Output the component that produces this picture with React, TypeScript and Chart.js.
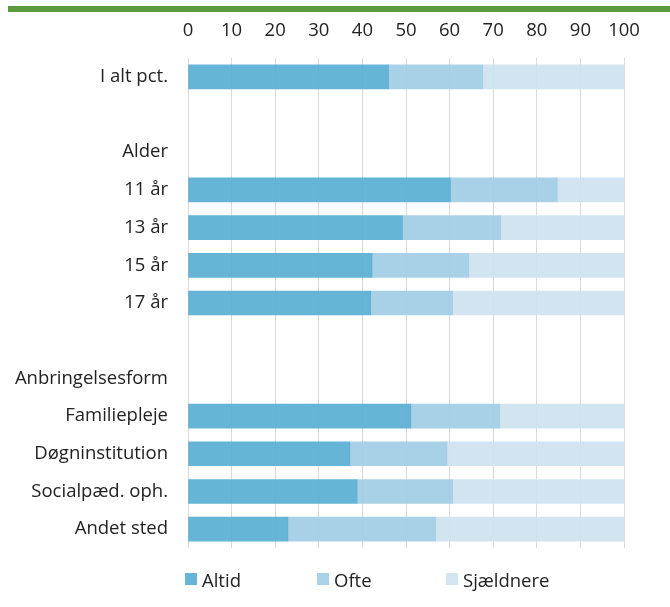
import React, { useEffect, useRef } from "react";
import { Chart, registerables } from "chart.js";

Chart.register(...registerables);

const categories = [
  "I alt pct.",
  " ",
  "Alder",
  "11 år",
  "13 år",
  "15 år",
  "17 år",
  "  ",
  "Anbringelsesform",
  "Familiepleje",
  "Døgninstitution",
  "Socialpæd. oph.",
  "Andet sted",
];

const altid = [46.0, null, null, 60.2, 49.2, 42.2, 41.9, null, null, 51.1, 37.1, 38.8, 22.9];
const ofte = [21.6, null, null, 24.5, 22.5, 22.2, 18.8, null, null, 20.4, 22.3, 21.9, 33.9];
const sjaeldnere = [32.4, null, null, 15.3, 28.3, 35.6, 39.3, null, null, 28.5, 40.6, 39.3, 43.2];

const seriesNames = ["Altid", "Ofte", "Sjældnere"];
const barColors = ["rgba(85,172,209,0.9)", "rgba(159,204,228,0.9)", "rgba(204,225,238,0.9)"];
const legendColors = ["#66b4d6", "#a9d1e7", "#d2e5f0"];

const xTicks = [0, 10, 20, 30, 40, 50, 60, 70, 80, 90, 100];

const FONT = "'Open Sans', 'DejaVu Sans', sans-serif";
const TEXT = "#222222";

export default function App() {
  const canvasRef = useRef<HTMLCanvasElement | null>(null);

  useEffect(() => {
    if (!canvasRef.current) return;
    const chart = new Chart(canvasRef.current, {
      type: "bar",
      data: {
        labels: categories,
        datasets: [altid, ofte, sjaeldnere].map((d, i) => ({
          label: seriesNames[i],
          data: d,
          backgroundColor: barColors[i],
          borderWidth: 0,
          barThickness: 24,
        })),
      },
      options: {
        indexAxis: "y",
        responsive: false,
        animation: false,
        maintainAspectRatio: false,
        layout: { padding: { top: 0, left: 0, right: 46, bottom: 59 } },
        plugins: {
          legend: { display: false },
          tooltip: { enabled: false },
        },
        scales: {
          x: {
            position: "top",
            stacked: true,
            min: 0,
            max: 100,
            afterFit: (scale: any) => {
              scale.height = 58;
            },
            afterBuildTicks: (scale: any) => {
              scale.ticks = xTicks.map((v) => ({ value: v }));
            },
            border: { display: false },
            grid: { color: "#d9d9d9", lineWidth: 1, drawTicks: false },
            ticks: {
              padding: 16,
              color: TEXT,
              font: { family: FONT, size: 18.5 },
              maxRotation: 0,
            },
          },
          y: {
            stacked: true,
            afterFit: (scale: any) => {
              scale.width = 188;
            },
            border: { display: false },
            grid: { display: false, drawTicks: false },
            ticks: {
              padding: 20,
              color: TEXT,
              font: { family: FONT, size: 18.5 },
              autoSkip: false,
            },
          },
        },
      },
    });
    return () => chart.destroy();
  }, []);

  const legendLefts = [185, 317, 446];

  return (
    <div style={{ position: "absolute", left: 0, top: 0, width: 670, height: 607, background: "#fff" }}>
      <div style={{ position: "absolute", left: 8, top: 6, width: 662, height: 6, background: "#5b9a40" }} />
      <canvas ref={canvasRef} width={670} height={607} style={{ position: "absolute", left: 0, top: 0 }} />
      {seriesNames.map((name, i) => (
        <div
          key={name}
          style={{
            position: "absolute",
            left: legendLefts[i],
            top: 566,
            height: 26,
            display: "flex",
            alignItems: "center",
            fontFamily: FONT,
            fontSize: 18.5,
            color: TEXT,
            whiteSpace: "nowrap",
          }}
        >
          <span style={{ display: "inline-block", width: 12, height: 12, background: legendColors[i], marginRight: 5 }} />
          <span>{name}</span>
        </div>
      ))}
    </div>
  );
}
